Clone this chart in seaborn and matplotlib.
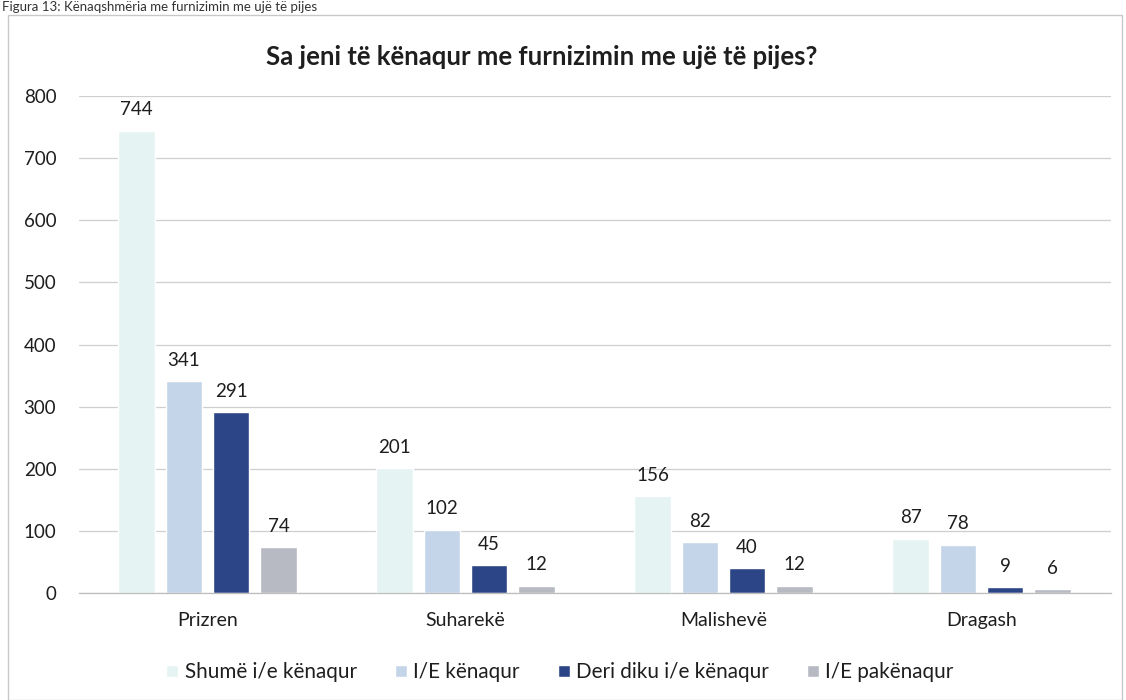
import matplotlib
matplotlib.use("Agg")
import matplotlib.pyplot as plt
import seaborn as sns
import pandas as pd
from matplotlib.patches import Rectangle

regions = ["Prizren", "Suharekë", "Malishevë", "Dragash"]
series_names = ["Shumë i/e kënaqur", "I/E kënaqur", "Deri diku i/e kënaqur", "I/E pakënaqur"]
shume = [744, 201, 156, 87]
kenaqur = [341, 102, 82, 78]
deri_diku = [291, 45, 40, 9]
pakenaqur = [74, 12, 12, 6]
yticks = [0, 100, 200, 300, 400, 500, 600, 700, 800]
title = "Sa jeni të kënaqur me furnizimin me ujë të pijes?"
caption = "Figura 13: Kënaqshmëria me furnizimin me ujë të pijes"

colors = ["#e6f3f3", "#c5d5e9", "#2c4586", "#b8bac3"]

rows = []
for name, vals in zip(series_names, [shume, kenaqur, deri_diku, pakenaqur]):
    for r, v in zip(regions, vals):
        rows.append({"Region": r, "Series": name, "Value": v})
df = pd.DataFrame(rows)

sns.set_theme(style="white")
plt.rcParams["font.family"] = ["Lato", "DejaVu Sans"]

W, H = 1126, 700
fig = plt.figure(figsize=(W / 100, H / 100), dpi=100)
ax = fig.add_axes([78.5 / W, 1 - 593 / H, 1032 / W, 497 / H])

sns.barplot(data=df, x="Region", y="Value", hue="Series", order=regions,
            hue_order=series_names, palette=colors, width=0.733, gap=0.228,
            ax=ax, legend=True, saturation=1)

txtc = "#1e1e1e"
ax.set_ylim(0, 800)
ax.set_xlim(-0.5, 3.5)
ax.set_yticks(yticks)
ax.set_yticklabels([str(t) for t in yticks], fontsize=13.5, color=txtc)
ax.tick_params(axis="y", length=0, pad=16)
ax.tick_params(axis="x", length=0, pad=14, labelsize=14, labelcolor=txtc)
ax.set_xlabel("")
ax.set_ylabel("")
ax.yaxis.grid(True, color="#cfcfcf", linewidth=0.9)
ax.set_axisbelow(True)
for s in ["top", "right", "left"]:
    ax.spines[s].set_visible(False)
ax.spines["bottom"].set_color("#bdbdbd")
ax.spines["bottom"].set_linewidth(0.9)

for cont in ax.containers:
    ax.bar_label(cont, padding=9, fontsize=13.5, color=txtc)

handles, labels = ax.get_legend_handles_labels()
ax.get_legend().remove()
leg = fig.legend(handles, labels, loc="center", bbox_to_anchor=(560 / W, 1 - 672 / H), ncol=4,
                 frameon=False, fontsize=14.5, handlelength=0.6, handleheight=0.6,
                 handletextpad=0.3, columnspacing=1.9, labelcolor=txtc)

ttl = fig.text(542 / W, 1 - 57 / H, title, ha="center", va="center", fontsize=17.5,
               fontweight="bold", color=txtc)

fig.text(2 / W, 1 - 1 / H, caption, ha="left", va="top", fontsize=9.5, color="#333333")

# fit text widths to the reference
fig.canvas.draw()
r = fig.canvas.get_renderer()
def fit(t, target):
    w = t.get_window_extent(r).width
    t.set_fontsize(t.get_fontsize() * target / w)
fit(ttl, 552)
fit(leg.get_texts()[0], 171)
s = leg.get_texts()[0].get_fontsize()
for t in leg.get_texts():
    t.set_fontsize(s)

fig.patches.append(Rectangle((8 / W, 0.0), (W - 12) / W, 1 - 15 / H, transform=fig.transFigure,
                             fill=False, edgecolor="#c8c8c8", linewidth=1))

fig.savefig("out.png", dpi=100, facecolor="white")
